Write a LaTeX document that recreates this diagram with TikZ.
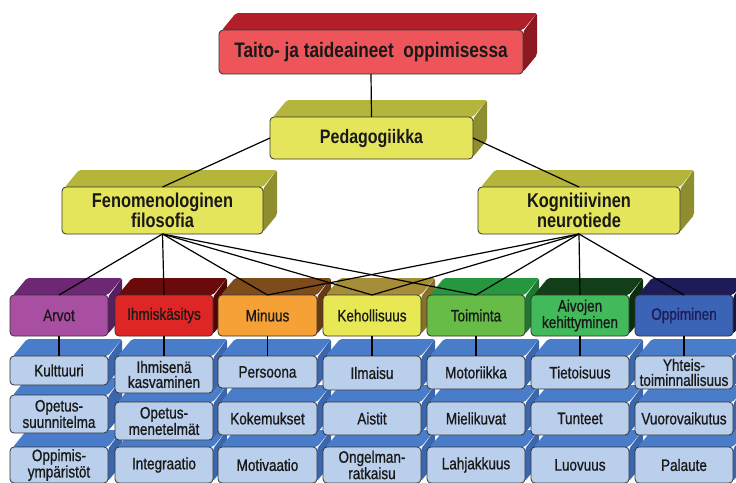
\documentclass[tikz,border=0pt]{standalone}
\usepackage{fontspec}
\newfontfamily\nar[FakeStretch=0.82]{Liberation Sans}
\newfontfamily\narm[FakeStretch=0.82,FakeBold=0.9]{Liberation Sans}

% front / top / side colours of the slabs
\definecolor{titF}{HTML}{EE555A}\definecolor{titT}{HTML}{B31F29}\definecolor{titS}{HTML}{8C1820}
\definecolor{yelF}{HTML}{E5E55C}\definecolor{yelT}{HTML}{B5B53C}\definecolor{yelS}{HTML}{8E8E2E}
\definecolor{purF}{HTML}{A84FA2}\definecolor{purT}{HTML}{6E2773}\definecolor{purS}{HTML}{581F5E}
\definecolor{redF}{HTML}{DF2626}\definecolor{redT}{HTML}{6B0A0A}\definecolor{redS}{HTML}{520707}
\definecolor{oraF}{HTML}{F5A136}\definecolor{oraT}{HTML}{7E4B1B}\definecolor{oraS}{HTML}{633A14}
\definecolor{kelF}{HTML}{E8E854}\definecolor{kelT}{HTML}{A68E38}\definecolor{kelS}{HTML}{85712C}
\definecolor{greF}{HTML}{67BC47}\definecolor{greT}{HTML}{27973F}\definecolor{greS}{HTML}{1E7832}
\definecolor{aivF}{HTML}{42B95A}\definecolor{aivT}{HTML}{123F18}\definecolor{aivS}{HTML}{0C2E10}
\definecolor{oppF}{HTML}{3C64B6}\definecolor{oppT}{HTML}{1D1C58}\definecolor{oppS}{HTML}{151444}
\definecolor{bluF}{HTML}{BACFEC}\definecolor{bluT}{HTML}{4A7DC9}\definecolor{bluS}{HTML}{3A66AD}

% #1 name, #2 x1, #3 y1, #4 x2, #5 y2, #6 colour prefix, #7 text style, #8 text
\newcommand\cubenode[8]{%
  \fill[#6T, rounded corners=2pt] (#2+3,#3) -- (#2+17,#3-17) -- (#4+14,#3-17) -- (#4,#3) -- cycle;
  \fill[#6S, rounded corners=2pt] (#4,#3+2) -- (#4+14,#3-17) -- (#4+14,#5-19) -- (#4,#5-2) -- cycle;
  \node[box, #7, fill=#6F, minimum width={(#4-#2)*1pt}, minimum height={(#5-#3)*1pt}]
    (#1) at ({(#2+#4)/2},{(#3+#5)/2}) {#8};
}

\begin{document}
\begin{tikzpicture}[x=1pt, y=-1pt,
  box/.style={draw=black!80, line width=0.8pt, rounded corners=4pt, inner sep=0pt,
    outer sep=0pt, align=center, text=black!90},
  bigtxt/.style={font=\nar\bfseries\fontsize{21}{22}\selectfont},
  pedtxt/.style={font=\nar\bfseries\fontsize{19.5}{20}\selectfont},
  midtxt/.style={font=\nar\bfseries\fontsize{20}{18.5}\selectfont},
  smalltxt/.style={font=\narm\fontsize{16.5}{15}\selectfont},
  conn/.style={line width=1.2pt, black}]
\useasboundingbox (0,0) rectangle (736,482);
\clip (0,0) rectangle (736,482);
\fill[white] (0,0) rectangle (736,482);

% third row of concepts
\cubenode{b13}{10}{447}{108}{483}{blu}{smalltxt}{Oppimis-\\ympäristöt}
\cubenode{b23}{115}{447}{213}{483}{blu}{smalltxt}{Integraatio}
\cubenode{b33}{218}{447}{317}{483}{blu}{smalltxt}{Motivaatio}
\cubenode{b43}{323}{447}{421}{483}{blu}{smalltxt}{Ongelman-\\ratkaisu}
\cubenode{b53}{427}{447}{525}{483}{blu}{smalltxt}{Lahjakkuus}
\cubenode{b63}{531}{447}{629}{483}{blu}{smalltxt}{Luovuus}
\cubenode{b73}{635}{447}{733}{483}{blu}{smalltxt}{Palaute}

% second row of concepts
\cubenode{b12}{10}{395}{108}{433}{blu}{smalltxt}{Opetus-\\suunnitelma}
\cubenode{b22}{115}{402}{213}{440}{blu}{smalltxt}{Opetus-\\menetelmät}
\cubenode{b32}{218}{402}{317}{435}{blu}{smalltxt}{Kokemukset}
\cubenode{b42}{323}{402}{421}{435}{blu}{smalltxt}{Aistit}
\cubenode{b52}{427}{402}{525}{435}{blu}{smalltxt}{Mielikuvat}
\cubenode{b62}{531}{402}{629}{435}{blu}{smalltxt}{Tunteet}
\cubenode{b72}{635}{402}{733}{435}{blu}{smalltxt}{Vuorovaikutus}

% first row of concepts
\cubenode{b11}{10}{356}{108}{385}{blu}{smalltxt}{Kulttuuri}
\cubenode{b21}{115}{356}{213}{393}{blu}{smalltxt}{Ihmisenä\\kasvaminen}
\cubenode{b31}{218}{356}{317}{388}{blu}{smalltxt}{Persoona}
\cubenode{b41}{323}{356}{421}{390}{blu}{smalltxt}{Ilmaisu}
\cubenode{b51}{427}{356}{525}{389}{blu}{smalltxt}{Motoriikka}
\cubenode{b61}{531}{356}{629}{389}{blu}{smalltxt}{Tietoisuus}
\cubenode{b71}{635}{356}{733}{389}{blu}{smalltxt}{Yhteis-\\toiminnallisuus}

% themes
\cubenode{c1}{10}{295}{108}{336}{pur}{smalltxt}{Arvot}
\cubenode{c2}{115}{295}{213}{336}{red}{smalltxt}{Ihmiskäsitys}
\cubenode{c3}{218}{295}{317}{336}{ora}{smalltxt}{Minuus}
\cubenode{c4}{323}{295}{421}{336}{kel}{smalltxt}{Kehollisuus}
\cubenode{c5}{427}{295}{525}{336}{gre}{smalltxt}{Toiminta}
\cubenode{c6}{531}{295}{629}{336}{aiv}{smalltxt}{Aivojen\\kehittyminen}
\cubenode{c7}{635}{295}{733}{336}{opp}{smalltxt, text=oppT}{Oppiminen}

% upper levels
\cubenode{fen}{62}{187}{263}{234}{yel}{midtxt}{Fenomenologinen\\filosofia}
\cubenode{kog}{478}{187}{680}{234}{yel}{midtxt}{Kognitiivinen\\neurotiede}
\cubenode{ped}{270}{117}{473}{159}{yel}{pedtxt}{Pedagogiikka}
\cubenode{tit}{219}{30}{523}{74}{tit}{bigtxt}{Taito- ja taideaineet\ \ oppimisessa}

% connectors
\draw[conn] (tit.south) -- (ped.north);
\draw[conn] (ped.west) -- (fen.north);
\draw[conn] (ped.east) -- (kog.north);
\foreach \c in {c1,c2,c3,c4,c5} \draw[conn] (fen.south) -- (\c.north);
\foreach \c in {c3,c4,c5,c6,c7} \draw[conn] (kog.south) -- (\c.north);
\foreach \i in {1,...,7} \draw[conn] (c\i.south) -- (b\i1.north);
\end{tikzpicture}
\end{document}
